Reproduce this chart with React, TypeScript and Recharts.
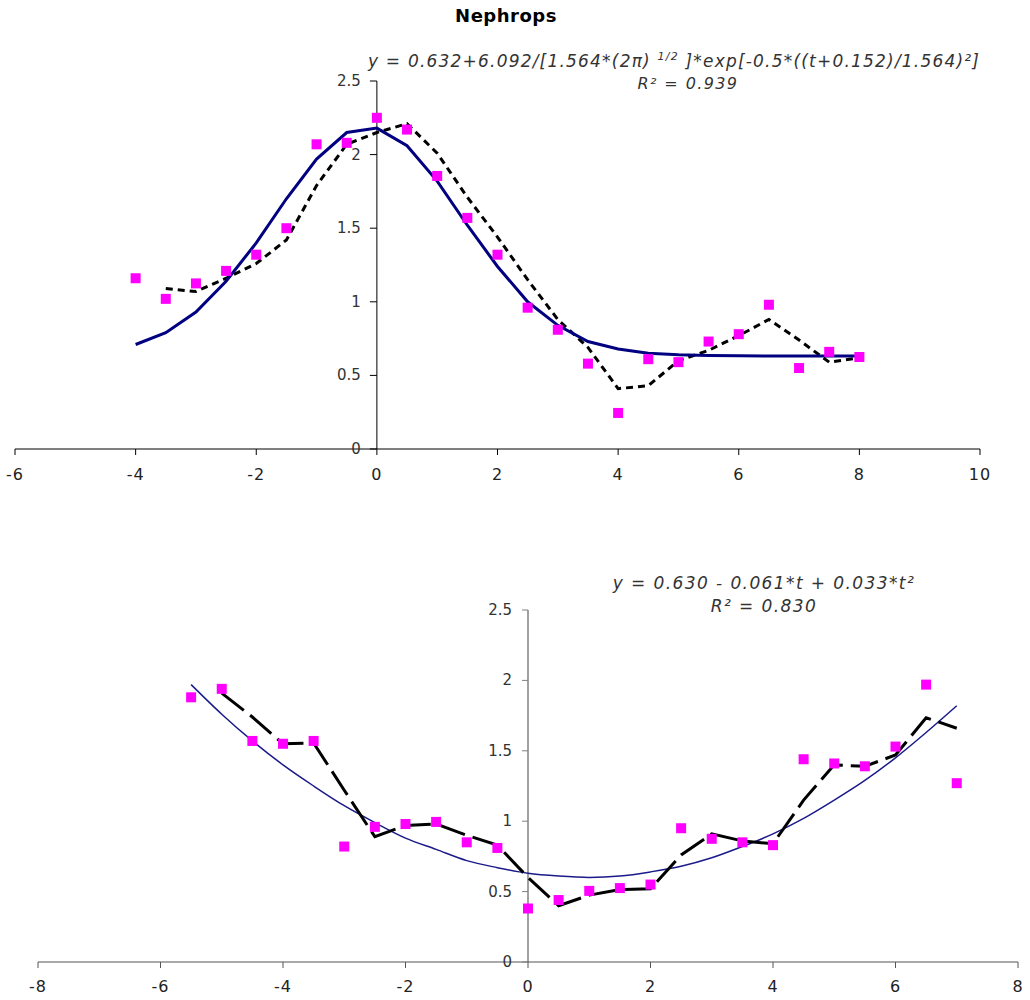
import React from "react";
import {
  ComposedChart,
  Line,
  Scatter,
  XAxis,
  YAxis,
  ReferenceLine,
  ReferenceDot,
} from "recharts";

// top panel (Nephrops, gaussian fit)
const topT = [-4, -3.5, -3, -2.5, -2, -1.5, -1, -0.5, 0, 0.5, 1, 1.5, 2, 2.5, 3, 3.5, 4, 4.5, 5, 5.5, 6, 6.5, 7, 7.5, 8];
const topObs = [1.16, 1.02, 1.125, 1.21, 1.32, 1.5, 2.07, 2.08, 2.25, 2.17, 1.855, 1.57, 1.32, 0.96, 0.81, 0.58, 0.245, 0.61, 0.59, 0.73, 0.78, 0.98, 0.55, 0.66, 0.625];
const topFit = [0.71, 0.79, 0.93, 1.14, 1.4, 1.7, 1.97, 2.15, 2.18, 2.06, 1.82, 1.52, 1.24, 1.0, 0.84, 0.73, 0.68, 0.65, 0.64, 0.635, 0.633, 0.632, 0.632, 0.632, 0.632];
const topSmooth = [null, 1.09, 1.07, 1.16, 1.26, 1.42, 1.79, 2.07, 2.15, 2.21, 2.01, 1.71, 1.44, 1.15, 0.88, 0.69, 0.41, 0.43, 0.6, 0.67, 0.77, 0.88, 0.74, 0.59, 0.62];
const topXTicks = [-6, -4, -2, 0, 2, 4, 6, 8, 10];
const topYTicks = [0, 0.5, 1, 1.5, 2, 2.5];

// bottom panel (quadratic fit)
const botT = [-5.5, -5, -4.5, -4, -3.5, -3, -2.5, -2, -1.5, -1, -0.5, 0, 0.5, 1, 1.5, 2, 2.5, 3, 3.5, 4, 4.5, 5, 5.5, 6, 6.5, 7];
const botObs = [1.88, 1.94, 1.57, 1.55, 1.57, 0.82, 0.96, 0.98, 0.995, 0.85, 0.81, 0.38, 0.44, 0.505, 0.525, 0.55, 0.95, 0.875, 0.85, 0.83, 1.44, 1.41, 1.39, 1.53, 1.97, 1.27];
const botFit = [1.97, 1.76, 1.57, 1.4, 1.25, 1.11, 0.99, 0.88, 0.8, 0.72, 0.67, 0.63, 0.61, 0.6, 0.61, 0.64, 0.68, 0.74, 0.82, 0.91, 1.02, 1.15, 1.29, 1.45, 1.63, 1.82];
const botSmooth = [null, 1.91, 1.74, 1.55, 1.555, 1.22, 0.89, 0.97, 0.98, 0.9, 0.83, 0.6, 0.4, 0.475, 0.515, 0.52, 0.76, 0.91, 0.86, 0.84, 1.15, 1.4, 1.39, 1.47, 1.735, 1.66];
const botXTicks = [-8, -6, -4, -2, 0, 2, 4, 6, 8];
const botYTicks = [0, 0.5, 1, 1.5, 2, 2.5];

const FONT = '"DejaVu Sans", Verdana, sans-serif';
const PINK = "#ff00ff";

const topData = topT.map((t, i) => ({ t, obs: topObs[i], fit: topFit[i], smooth: topSmooth[i] }));
const botData = botT.map((t, i) => ({ t, obs: botObs[i], fit: botFit[i], smooth: botSmooth[i] }));

const square = (size: number) => (p: any) =>
  <rect x={p.cx - size / 2} y={p.cy - size / 2} width={size} height={size} fill={PINK} />;

// y axis sits at x = 0, so ticks are drawn as reference dots
const yTick = (v: number, color: string, len: number, gap: number) => (p: any) =>
  (
    <g>
      <line x1={p.cx - len} x2={p.cx} y1={p.cy} y2={p.cy} stroke={color} strokeWidth={1} />
      <text x={p.cx - gap} y={p.cy} textAnchor="end" dominantBaseline="central" fontFamily={FONT} fontSize={15} fill="#333">
        {v}
      </text>
    </g>
  );

const eqStyle: React.CSSProperties = {
  position: "absolute",
  whiteSpace: "nowrap",
  fontFamily: FONT,
  fontStyle: "italic",
  color: "#333",
};

export default function App() {
  return (
    <div style={{ position: "absolute", left: 0, top: 0, width: 1030, height: 1000, background: "#fff" }}>
      <div style={{ position: "absolute", left: 0, top: 0, width: 1030, height: 500 }}>
        <ComposedChart width={1030} height={500} data={topData} margin={{ top: 81, right: 50, bottom: 21, left: 15 }}>
          <XAxis
            dataKey="t"
            type="number"
            domain={[-6, 10]}
            ticks={topXTicks}
            height={30}
            stroke="#000"
            tickSize={6}
            tickMargin={14}
            tick={{ fill: "#222", fontSize: 16, fontFamily: FONT, letterSpacing: 1 }}
          />
          <YAxis hide type="number" domain={[0, 2.5]} ticks={topYTicks} />
          <ReferenceLine x={0} stroke="#000" strokeWidth={1} />
          {topYTicks.map((v) => (
            <ReferenceDot key={v} x={0} y={v} r={0} shape={yTick(v, "#000", 7, 16)} />
          ))}
          <Scatter dataKey="obs" shape={square(10)} isAnimationActive={false} />
          <Line dataKey="smooth" type="linear" stroke="#000" strokeWidth={3} strokeDasharray="7 5" dot={false} isAnimationActive={false} />
          <Line dataKey="fit" type="linear" stroke="#000080" strokeWidth={3} dot={false} isAnimationActive={false} />
        </ComposedChart>
      </div>
      <div style={{ position: "absolute", left: 0, top: 500, width: 1030, height: 500 }}>
        <ComposedChart width={1030} height={500} data={botData} margin={{ top: 110, right: 12, bottom: 8, left: 38 }}>
          <XAxis
            dataKey="t"
            type="number"
            domain={[-8, 8]}
            ticks={botXTicks}
            height={30}
            stroke="#555"
            tickSize={6}
            tickMargin={13}
            tick={{ fill: "#222", fontSize: 16, fontFamily: FONT, letterSpacing: 1 }}
          />
          <YAxis hide type="number" domain={[0, 2.5]} ticks={botYTicks} />
          <ReferenceLine x={0} stroke="#808080" strokeWidth={1.5} />
          {botYTicks.map((v) => (
            <ReferenceDot key={v} x={0} y={v} r={0} shape={yTick(v, "#808080", 6, 16)} />
          ))}
          <Scatter dataKey="obs" shape={square(10)} isAnimationActive={false} />
          <Line dataKey="fit" type="monotone" stroke="#1a1a8a" strokeWidth={1.5} dot={false} isAnimationActive={false} />
          <Line dataKey="smooth" type="linear" stroke="#000" strokeWidth={3} strokeDasharray="28 8" dot={false} isAnimationActive={false} />
        </ComposedChart>
      </div>

      <div style={{ position: "absolute", left: 0, width: 1012, top: 5, textAlign: "center", fontFamily: FONT, fontWeight: "bold", fontSize: 18, letterSpacing: 0.5 }}>
        Nephrops
      </div>
      <div style={{ ...eqStyle, left: 368, top: 50, fontSize: 17, letterSpacing: 1.2 }}>
        y = 0.632+6.092/[1.564*(2π) <sup style={{ fontSize: 11 }}>1/2</sup> ]*exp[-0.5*((t+0.152)/1.564)²]
      </div>
      <div style={{ ...eqStyle, left: 588, width: 200, top: 74, textAlign: "center", fontSize: 16, letterSpacing: 1.4 }}>
        R² = 0.939
      </div>
      <div style={{ ...eqStyle, left: 514, width: 500, top: 573, textAlign: "center", fontSize: 17, letterSpacing: 1.4 }}>
        y = 0.630 - 0.061*t + 0.033*t²
      </div>
      <div style={{ ...eqStyle, left: 664, width: 200, top: 596, textAlign: "center", fontSize: 17, letterSpacing: 1.4 }}>
        R² = 0.830
      </div>
    </div>
  );
}
